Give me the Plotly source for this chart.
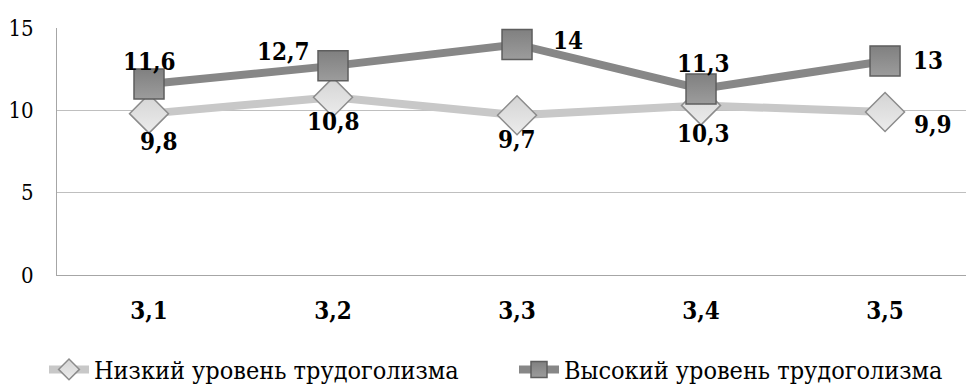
import plotly.graph_objects as go

# Категории и значения двух групп
categories = ["3,1", "3,2", "3,3", "3,4", "3,5"]
low_values = [9.8, 10.8, 9.7, 10.3, 9.9]
high_values = [11.6, 12.7, 14, 11.3, 13]
low_name = "Низкий уровень трудоголизма"
high_name = "Высокий уровень трудоголизма"
y_ticks = [0, 5, 10, 15]

# Смещения подписей значений (в пикселях) относительно маркеров
low_offsets = [(10, -28), (0, -24), (0, -24), (2, -28), (48, -13)]
high_offsets = [(0, 22), (-50, 14), (51, 4), (2, 25), (43, 0)]

SERIF = "DejaVu Serif Condensed, DejaVu Serif"


def fmt(v):
    return f"{v:g}".replace(".", ",")


x_idx = list(range(len(categories)))

fig = go.Figure()
fig.add_trace(go.Scatter(
    x=x_idx, y=low_values, name=low_name, mode="lines+markers",
    line=dict(color="#c8c8c8", width=8),
    marker=dict(symbol="diamond", size=30, color="#d4d4d4",
                line=dict(color="#8c8c8c", width=1.5),
                gradient=dict(type="vertical", color="#ececec")),
    cliponaxis=False,
))
fig.add_trace(go.Scatter(
    x=x_idx, y=high_values, name=high_name, mode="lines+markers",
    line=dict(color="#878787", width=8),
    marker=dict(symbol="square", size=30, color="#808080",
                line=dict(color="#5e5e5e", width=1.5),
                gradient=dict(type="vertical", color="#9c9c9c")),
    cliponaxis=False,
))

annotations = []
for values, offsets in ((low_values, low_offsets), (high_values, high_offsets)):
    for i, v in enumerate(values):
        dx, dy = offsets[i]
        annotations.append(dict(
            x=i, y=v, xref="x", yref="y", text=fmt(v), showarrow=False,
            xshift=dx, yshift=dy,
            font=dict(family=SERIF, size=24, color="black", weight="bold"),
        ))

fig.update_layout(
    width=966, height=387,
    margin=dict(l=57, r=0, t=28, b=112, autoexpand=False),
    paper_bgcolor="white", plot_bgcolor="white",
    font=dict(family=SERIF, color="black"),
    showlegend=True,
    legend=dict(orientation="h", x=-0.0143, xanchor="left", y=-0.29,
                yanchor="top", font=dict(family=SERIF, size=25, color="black"),
                itemwidth=40, entrywidth=415, tracegroupgap=0,
                bgcolor="rgba(0,0,0,0)"),
    annotations=annotations,
)
fig.update_xaxes(
    range=[-0.5, 4.44], tickmode="array", tickvals=x_idx, ticktext=categories,
    showgrid=False, zeroline=False, showline=True, linecolor="#a6a6a6",
    linewidth=1, ticks="", ticklabelstandoff=14,
    tickfont=dict(family=SERIF, size=24, color="black", weight="bold"),
    fixedrange=True,
)
fig.update_yaxes(
    range=[0, 15], tickmode="array", tickvals=y_ticks,
    showgrid=True, gridcolor="#bfbfbf", gridwidth=1, zeroline=False,
    showline=True, linecolor="#a6a6a6", linewidth=1, ticks="",
    ticklabelstandoff=18,
    tickfont=dict(family=SERIF, size=22, color="black"),
    fixedrange=True,
)

fig.write_html("out.html")
